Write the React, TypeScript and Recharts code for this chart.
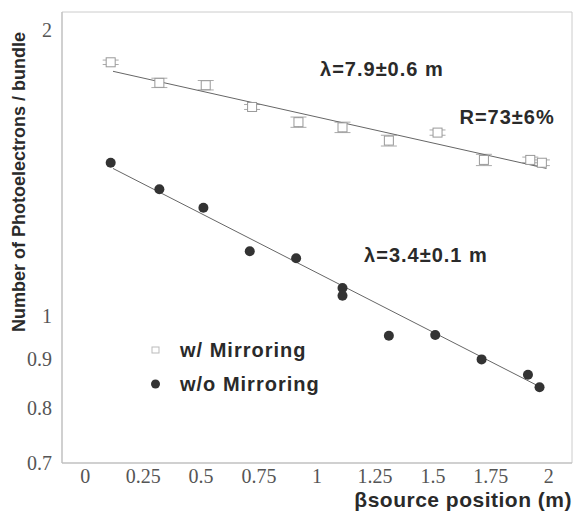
import { ComposedChart, Scatter, XAxis, YAxis, ErrorBar, ReferenceArea, ReferenceDot } from 'recharts';

const withMirrorX = [0.11, 0.32, 0.52, 0.72, 0.92, 1.11, 1.31, 1.52, 1.72, 1.92, 1.97];
const withMirrorY = [1.85, 1.76, 1.75, 1.66, 1.6, 1.58, 1.53, 1.56, 1.46, 1.46, 1.45];
const withMirrorErr = [0.01, 0.02, 0.02, 0.01, 0.02, 0.02, 0.02, 0.01, 0.02, 0.01, 0.01];

const noMirrorX = [0.11, 0.32, 0.51, 0.71, 0.91, 1.11, 1.11, 1.31, 1.51, 1.71, 1.91, 1.96];
const noMirrorY = [1.45, 1.36, 1.3, 1.17, 1.15, 1.07, 1.05, 0.953, 0.955, 0.9, 0.867, 0.841];

const fitMirrorX = [0.12, 1.99];
const fitMirrorY = [1.81, 1.43];
const fitNoMirrorX = [0.12, 1.97];
const fitNoMirrorY = [1.43, 0.84];

const xTicks = [0, 0.25, 0.5, 0.75, 1, 1.25, 1.5, 1.75, 2];
const yTicks = [0.7, 0.8, 0.9, 1, 2];

const mirrorData = withMirrorX.map((x, i) => ({ x, y: withMirrorY[i], err: withMirrorErr[i] }));
const noMirrorData = noMirrorX.map((x, i) => ({ x, y: noMirrorY[i] }));
const fitMirror = fitMirrorX.map((x, i) => ({ x, y: fitMirrorY[i] }));
const fitNoMirror = fitNoMirrorX.map((x, i) => ({ x, y: fitNoMirrorY[i] }));

const textFont = '"Liberation Sans", Arial, sans-serif';
const tickFont = '"Liberation Serif", "Times New Roman", serif';

const OpenSquare = (props: any) => (
  <rect x={props.cx - 4.5} y={props.cy - 4.5} width={9} height={9} fill="#fff" stroke="#999" strokeWidth={1} />
);
const Dot = (props: any) => <circle cx={props.cx} cy={props.cy} r={5} fill="#333" />;
const NoShape = () => <g />;

const annotation = (value: string) => ({
  value,
  position: 'center' as const,
  fill: '#2a2a2a',
  fontSize: 20,
  fontWeight: 'bold',
  fontFamily: textFont,
  letterSpacing: 1,
});

function LegendBox() {
  return (
    <div
      style={{
        position: 'absolute',
        left: 148,
        top: 333,
        fontFamily: textFont,
        fontWeight: 'bold',
        fontSize: 20,
        letterSpacing: 1,
        color: '#2a2a2a',
      }}
    >
      <div style={{ display: 'flex', alignItems: 'center', height: 34 }}>
        <svg width={24} height={12}>
          <rect x={4} y={3} width={7} height={6} fill="#fff" stroke="#bbb" />
        </svg>
        <span style={{ marginLeft: 8 }}>w/ Mirroring</span>
      </div>
      <div style={{ display: 'flex', alignItems: 'center', height: 34 }}>
        <svg width={24} height={12}>
          <circle cx={7.5} cy={6} r={4.5} fill="#333" />
        </svg>
        <span style={{ marginLeft: 8 }}>w/o Mirroring</span>
      </div>
    </div>
  );
}

export default function App() {
  return (
    <div style={{ position: 'absolute', left: 0, top: 0, width: 573, height: 512, background: '#fff' }}>
      <style>{'body{margin:0}'}</style>
      <ComposedChart width={573} height={512} margin={{ top: 12, right: 1, bottom: 0, left: 0 }}>
        <XAxis
          dataKey="x"
          type="number"
          domain={[-0.1, 2.1]}
          ticks={xTicks}
          allowDataOverflow
          height={49}
          tickLine={false}
          tickSize={6}
          tickMargin={0}
          axisLine={{ stroke: '#bbb' }}
          tick={{ fill: '#555', fontSize: 20, fontFamily: tickFont }}
          label={{
            content: () => (
              <text
                x={572}
                y={507}
                textAnchor="end"
                fill="#2a2a2a"
                fontSize={21}
                fontWeight="bold"
                letterSpacing={0.5}
                fontFamily={textFont}
              >
                βsource position (m)
              </text>
            ),
          }}
        />
        <YAxis
          dataKey="y"
          type="number"
          scale="log"
          domain={[0.7, 2.09]}
          ticks={yTicks}
          allowDataOverflow
          width={62}
          tickLine={false}
          tickSize={6}
          tickMargin={4}
          axisLine={{ stroke: '#bbb' }}
          tick={{ fill: '#555', fontSize: 20, fontFamily: tickFont }}
          label={{
            content: () => (
              <text
                x={25}
                y={182}
                transform="rotate(-90 25 182)"
                textAnchor="middle"
                fill="#2a2a2a"
                fontSize={18}
                fontWeight="bold"
                fontFamily={textFont}
              >
                Number of Photoelectrons / bundle
              </text>
            ),
          }}
        />
        <ReferenceArea x1={-0.1} x2={2.1} y1={0.7} y2={2.09} fill="none" stroke="#ccc" ifOverflow="visible" />
        <Scatter data={fitMirror} line={{ stroke: '#666', strokeWidth: 1 }} shape={NoShape} isAnimationActive={false} legendType="none" />
        <Scatter data={fitNoMirror} line={{ stroke: '#666', strokeWidth: 1 }} shape={NoShape} isAnimationActive={false} legendType="none" />
        <Scatter data={mirrorData} shape={OpenSquare} isAnimationActive={false} name="w/ Mirroring">
          <ErrorBar dataKey="err" direction="y" width={8} stroke="#aaa" strokeWidth={1} />
        </Scatter>
        <Scatter data={noMirrorData} shape={Dot} isAnimationActive={false} name="w/o Mirroring" />
        <ReferenceDot x={1.28} y={1.82} r={0} fill="none" stroke="none" label={annotation('λ=7.9±0.6 m')} />
        <ReferenceDot x={1.82} y={1.62} r={0} fill="none" stroke="none" label={annotation('R=73±6%')} />
        <ReferenceDot x={1.47} y={1.16} r={0} fill="none" stroke="none" label={annotation('λ=3.4±0.1 m')} />
      </ComposedChart>
      <LegendBox />
    </div>
  );
}
